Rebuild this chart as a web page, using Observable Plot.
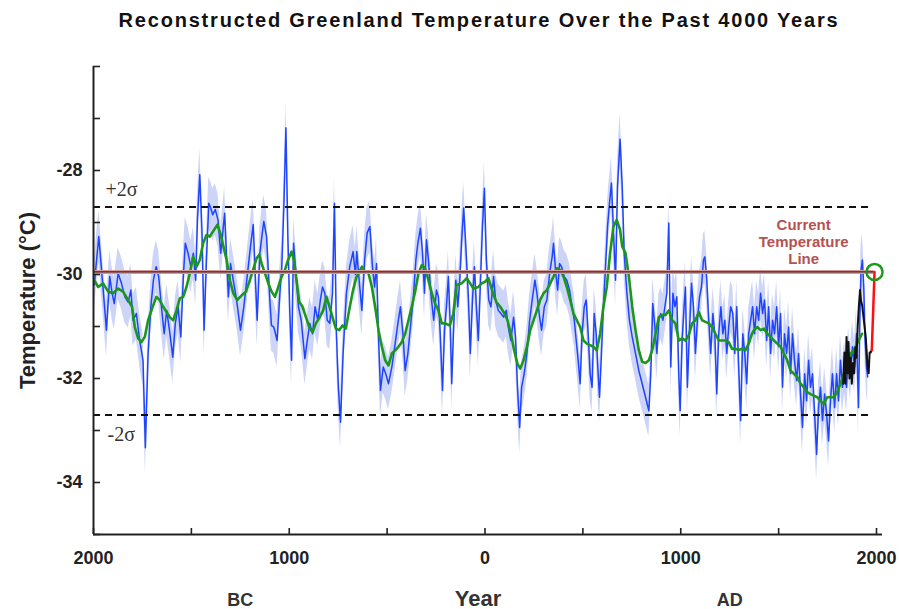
<!DOCTYPE html>
<html>
<head>
<meta charset="utf-8">
<script src="https://cdn.jsdelivr.net/npm/d3@7"></script>
<script src="https://cdn.jsdelivr.net/npm/@observablehq/plot@0.6"></script>
<style>
  body { margin: 0; background: #fff; }
  #chart { width: 899px; height: 609px; }
</style>
</head>
<body>
<div id="chart"></div>
<script>
// ---------- Text ----------
const chartTitle = "Reconstructed Greenland Temperature Over the Past 4000 Years";
const yAxisTitle = "Temperature (°C)";
const xAxisTitle = "Year";
const eraLabels = [{year: -1250, label: "BC"}, {year: 1250, label: "AD"}];

// ---------- Scales / ticks ----------
const xDomain = [-2000, 2000];
const yDomain = [-35, -26];
const xTicks = [-2000, -1500, -1000, -500, 0, 500, 1000, 1500, 2000];
const xLabelTicks = [-2000, -1000, 0, 1000, 2000];
const yTicks = [-26, -27, -28, -29, -30, -31, -32, -33, -34, -35];
const yLabelTicks = [-28, -30, -32, -34];

// ---------- Reference lines ----------
const currentTemp = -29.95;
const currentLineEnd = 1988;
const sigmaLines = [{t: -28.7, label: "+2σ"}, {t: -32.7, label: "-2σ"}];
const sigmaLineEnd = 1960;
const currentNote = {year: 1628, label: "Current\nTemperature\nLine"};
const currentPoint = [{year: 1990, t: -29.95}];
const bandHalfWidth = 0.5;

// ---------- Series (year, °C) ----------
const blueSeries = [
[-1996,-30.2],[-1973,-29.27],[-1956,-30.04],[-1934,-31.07],[-1917,-30.04],[-1905,-30.36],[-1894,-30.56],[-1874,-29.98],[-1857,-30.17],[-1840,-30.43],[-1823,-30.53],[-1809,-30.30],[-1798,-30.88],[-1781,-30.75],[-1764,-31.27],[-1747,-31.65],[-1735,-33.33],[-1721,-31.52],[-1707,-30.62],[-1694,-30.11],[-1680,-29.85],[-1667,-30.04],[-1653,-30.62],[-1639,-31.14],[-1626,-30.69],[-1612,-31.07],[-1595,-31.59],[-1582,-30.94],[-1568,-30.62],[-1554,-31.20],[-1541,-30.04],[-1531,-29.40],[-1517,-29.59],[-1503,-29.85],[-1490,-29.59],[-1478,-30.11],[-1469,-28.95],[-1457,-28.08],[-1446,-29.14],[-1435,-31.07],[-1423,-29.72],[-1411,-28.63],[-1401,-28.72],[-1391,-28.85],[-1378,-28.75],[-1364,-28.95],[-1350,-29.59],
[-1330,-28.82],[-1311,-30.43],[-1300,-29.79],[-1286,-30.11],[-1269,-30.49],[-1249,-31.07],[-1232,-30.62],[-1215,-30.04],[-1198,-29.46],[-1184,-29.04],[-1174,-29.98],[-1164,-30.88],[-1150,-29.59],[-1140,-29.27],[-1130,-28.98],[-1116,-29.27],[-1102,-30.30],[-1091,-30.98],[-1079,-31.01],[-1062,-31.27],[-1048,-30.36],[-1038,-29.85],[-1027,-28.63],[-1017,-27.18],[-1007,-29.27],[-997,-30.75],[-988,-31.65],[-978,-29.40],[-966,-29.98],[-953,-30.62],[-939,-30.88],[-920,-31.62],[-908,-31.27],[-895,-30.94],[-881,-31.14],[-868,-30.62],[-854,-30.88],[-841,-30.49],[-830,-30.24],[-818,-30.36],[-806,-30.88],[-793,-30.94],[-779,-30.36],[-769,-28.63],[-759,-31.14],[-749,-32.17],[-738,-32.84],[-725,-31.52],[-708,-30.36],[-691,-29.85],[-674,-29.56],
[-662,-30.0],[-655,-29.56],[-643,-30.11],[-629,-30.69],[-615,-29.72],[-602,-29.20],[-588,-29.08],[-575,-29.85],[-564,-30.24],[-554,-29.79],[-544,-31.20],[-534,-32.23],[-520,-31.78],[-507,-31.91],[-493,-32.10],[-476,-31.78],[-459,-31.33],[-445,-30.94],[-432,-30.62],[-418,-31.20],[-408,-31.85],[-394,-31.52],[-381,-31.01],[-367,-30.49],[-353,-29.72],[-343,-29.40],[-330,-29.11],[-319,-29.59],[-309,-30.36],[-299,-29.33],[-289,-29.72],[-275,-30.43],[-262,-30.88],[-248,-30.30],[-238,-30.43],[-228,-31.20],[-217,-32.23],[-207,-31.07],[-197,-30.62],[-187,-30.04],[-177,-31.01],[-170,-32.10],[-160,-31.01],[-149,-30.11],[-139,-30.62],[-129,-30.11],[-119,-29.33],[-109,-28.72],[-98,-29.46],[-85,-30.43],[-75,-31.52],[-64,-30.49],[-54,-29.85],[-44,-30.62],[-34,-31.27],[-24,-30.24],[-13,-29.08],[-3,-28.34],[7,-29.72],
[19,-30.49],[30,-30.62],[44,-30.04],[54,-30.49],[68,-30.69],[81,-30.75],[95,-30.82],[109,-30.69],[119,-31.01],[132,-31.27],[146,-30.82],[156,-31.20],[166,-32.17],[177,-32.94],[187,-32.17],[200,-31.91],[214,-31.52],[228,-30.88],[241,-30.49],[255,-30.11],[265,-30.36],[279,-30.82],[289,-31.07],[303,-30.62],[316,-30.49],[330,-29.98],[343,-29.66],[350,-29.40],[360,-29.91],[371,-30.30],[381,-29.79],[391,-29.85],[405,-30.04],[418,-30.11],[432,-30.30],[445,-30.62],[456,-30.88],[466,-31.27],[476,-31.65],[486,-32.10],[496,-31.14],[507,-30.62],[517,-30.49],[527,-31.14],[537,-31.91],[547,-32.17],[558,-30.75],[568,-31.14],[578,-31.91],[585,-32.36],[595,-31.52],[605,-30.62],[615,-29.91],[626,-29.08],[636,-28.63],[646,-28.24],[656,-29.14],[667,-30.11],[677,-28.30],[690,-27.40],
[701,-28.30],[711,-29.59],[725,-30.36],[738,-30.88],[752,-31.20],[769,-31.52],[786,-31.85],[803,-32.10],[820,-32.36],[837,-32.62],[847,-31.91],[857,-30.56],[868,-31.01],[878,-31.52],[888,-30.88],[898,-30.75],[909,-30.88],[919,-30.62],[929,-30.36],[939,-29.01],[949,-31.78],[960,-30.36],[970,-30.62],[980,-30.43],[990,-31.91],[997,-32.62],[1007,-31.27],[1017,-30.62],[1024,-30.24],[1034,-32.17],[1044,-31.14],[1055,-30.17],[1065,-30.62],[1075,-31.52],[1085,-30.88],[1096,-30.43],[1106,-30.24],[1116,-29.72],[1123,-29.66],[1133,-30.11],[1143,-30.88],[1153,-31.52],[1164,-30.75],[1174,-31.14],[1184,-32.30],[1194,-31.14],[1205,-30.62],[1215,-31.14],[1225,-30.88],[1235,-31.52],[1245,-31.01],[1255,-30.62],[1266,-30.75],[1276,-31.52],[1286,-30.62],[1296,-31.78],[1306,-32.81],[1317,-31.14],[1327,-31.52],[1337,-32.10],[1347,-31.14],
[1357,-30.88],[1367,-30.62],[1377,-31.14],[1388,-30.62],[1398,-30.88],[1408,-30.36],[1418,-30.75],[1428,-30.49],[1439,-31.27],[1449,-30.62],[1459,-31.52],[1469,-30.88],[1479,-31.14],[1490,-30.62],[1500,-31.39],[1510,-30.75],[1520,-32.17],[1530,-31.14],[1541,-31.52],[1551,-31.01],[1561,-31.91],[1571,-31.14],[1581,-31.65],[1592,-32.04],[1602,-31.52],[1612,-32.30],[1622,-32.94],[1633,-31.91],[1643,-32.43],[1653,-31.65],[1663,-32.17],[1673,-31.91],[1684,-32.68],[1694,-33.46],[1704,-32.56],[1714,-32.17],[1724,-32.81],[1735,-32.30],[1745,-32.68],[1755,-33.20],[1765,-32.43],[1775,-31.91],[1786,-32.56],[1796,-31.91],[1806,-32.43],[1816,-31.65],[1826,-32.17],[1837,-31.78],[1847,-32.17],[1857,-31.52],[1867,-31.91],[1877,-31.39],[1888,-31.78],[1898,-31.14],[1908,-32.56],[1915,-30.88],[1921,-29.91],[1928,-29.72],[1935,-30.24],[1942,-31.27],[1949,-31.78],[1955,-31.97]
];

const greenSeries = [
[-1996,-30.11],[-1976,-30.24],[-1951,-30.17],[-1925,-30.33],[-1900,-30.36],[-1874,-30.27],[-1849,-30.33],[-1823,-30.49],[-1803,-30.62],[-1789,-31.01],[-1772,-31.23],[-1755,-31.30],[-1738,-31.20],[-1721,-30.88],[-1704,-30.69],[-1679,-30.43],[-1662,-30.49],[-1644,-30.62],[-1627,-30.72],[-1611,-30.82],[-1593,-30.88],[-1576,-30.69],[-1559,-30.46],[-1542,-30.43],[-1525,-30.24],[-1508,-29.98],[-1491,-29.66],[-1474,-29.85],[-1457,-29.72],[-1440,-29.40],[-1423,-29.24],[-1406,-29.27],[-1389,-29.17],[-1367,-29.04],[-1350,-29.24],
[-1337,-29.45],[-1320,-29.72],[-1303,-30.11],[-1286,-30.36],[-1266,-30.49],[-1243,-30.40],[-1221,-30.33],[-1201,-30.11],[-1180,-29.85],[-1167,-29.69],[-1153,-29.62],[-1141,-29.79],[-1124,-29.98],[-1107,-30.17],[-1090,-30.33],[-1073,-30.43],[-1056,-30.24],[-1039,-30.04],[-1022,-29.91],[-1006,-29.72],[-988,-29.56],[-976,-29.72],[-963,-30.11],[-949,-30.53],[-932,-30.62],[-915,-30.82],[-898,-31.01],[-881,-31.11],[-864,-30.94],[-844,-30.82],[-827,-30.69],[-810,-30.43],[-797,-30.59],[-779,-30.82],[-762,-31.04],[-745,-31.07],[-728,-30.98],[-711,-31.04],[-694,-30.69],[-674,-30.30],
[-657,-30.05],[-646,-29.98],[-629,-29.85],[-612,-29.95],[-595,-29.98],[-578,-30.24],[-561,-30.62],[-544,-31.07],[-527,-31.39],[-510,-31.65],[-493,-31.75],[-476,-31.52],[-459,-31.46],[-442,-31.39],[-425,-31.30],[-408,-31.14],[-391,-30.88],[-374,-30.62],[-357,-30.33],[-340,-29.98],[-323,-29.82],[-306,-29.88],[-289,-30.11],[-272,-30.36],[-255,-30.56],[-238,-30.69],[-221,-30.94],[-204,-30.94],[-179,-30.98],[-162,-30.75],[-145,-30.20],[-119,-30.17],[-93,-30.07],[-76,-30.17],[-59,-30.27],[-34,-30.24],[-17,-30.17],[0,-30.14],
[17,-30.07],[41,-30.36],[58,-30.53],[78,-30.62],[99,-30.75],[115,-30.88],[132,-31.14],[149,-31.46],[166,-31.72],[180,-31.81],[197,-31.65],[214,-31.39],[231,-31.07],[248,-30.88],[265,-30.69],[282,-30.49],[299,-30.36],[316,-30.30],[333,-30.17],[350,-30.04],[367,-29.88],[384,-29.91],[401,-30.04],[418,-30.24],[435,-30.49],[452,-30.75],[469,-30.88],[486,-31.01],[503,-31.27],[520,-31.33],[537,-31.36],[554,-31.39],[571,-31.46],[588,-31.14],[605,-30.62],[622,-30.24],[639,-29.59],[656,-29.08],[673,-28.95],
[690,-29.14],[701,-29.46],[718,-29.59],[735,-30.04],[752,-30.62],[769,-31.07],[786,-31.46],[803,-31.68],[820,-31.70],[837,-31.65],[854,-31.46],[871,-31.14],[888,-30.82],[905,-30.78],[922,-30.78],[939,-30.69],[956,-30.88],[973,-30.94],[990,-31.27],[1007,-31.23],[1024,-31.27],[1041,-31.17],[1058,-30.94],[1075,-30.88],[1092,-30.72],[1109,-30.88],[1126,-30.91],[1143,-30.94],[1160,-31.01],[1177,-31.14],[1194,-31.27],[1211,-31.27],[1228,-31.27],[1245,-31.30],[1262,-31.43],[1279,-31.43],[1296,-31.45],[1313,-31.43],[1330,-31.46],[1347,-31.33],
[1364,-31.14],[1374,-31.07],[1391,-31.01],[1408,-31.07],[1425,-31.04],[1442,-31.14],[1459,-31.20],[1476,-31.27],[1493,-31.33],[1510,-31.39],[1527,-31.52],[1544,-31.65],[1561,-31.85],[1578,-31.91],[1595,-31.97],[1612,-32.10],[1629,-32.17],[1646,-32.26],[1663,-32.30],[1680,-32.33],[1697,-32.36],[1714,-32.43],[1731,-32.49],[1748,-32.36],[1765,-32.36],[1782,-32.36],[1799,-32.26],[1816,-32.10],[1833,-31.91],[1850,-31.72],[1867,-31.52],[1884,-31.46],[1901,-31.33],[1918,-31.20],[1926,-31.14]
];

const blackSeries = [
[1830,-32.1],[1836,-31.5],[1841,-32.1],[1847,-31.2],[1852,-31.9],[1857,-31.3],[1862,-32.0],[1868,-31.6],[1874,-32.1],[1880,-31.7],[1886,-31.9],[1892,-31.4],[1898,-31.6],[1904,-31.0],[1910,-30.6],[1916,-30.3],[1921,-30.5],[1927,-30.6],[1933,-30.8],[1939,-31.0],[1945,-31.2],[1950,-31.5],[1955,-31.8],[1960,-31.9],[1965,-31.5],[1970,-31.5],[1976,-31.45]
];

const redSeries = [[1976,-31.45],[1990,-29.95]];

// ---------- Chart ----------
const sans = "'Liberation Sans', Arial, Helvetica, sans-serif";
const serif = "'Liberation Serif', 'Times New Roman', serif";

const chart = Plot.plot({
  width: 899,
  height: 609,
  marginLeft: 93,
  marginRight: 23,
  marginTop: 66,
  marginBottom: 75,
  x: {domain: xDomain, axis: null},
  y: {domain: yDomain, axis: null},
  style: {fontFamily: sans, background: "#fff", color: "#222", overflow: "visible"},
  marks: [
    // uncertainty band
    Plot.areaY(blueSeries, {x: d => d[0], y1: d => d[1] - bandHalfWidth, y2: d => d[1] + bandHalfWidth, fill: "#ccd4f7"}),
    // blue reconstruction
    Plot.line(blueSeries, {x: d => d[0], y: d => d[1], stroke: "#1f44ff", strokeWidth: 1.5}),
    // smoothed
    Plot.line(greenSeries, {x: d => d[0], y: d => d[1], stroke: "#1b971b", strokeWidth: 2.6}),
    // recent record
    Plot.line(blackSeries, {x: d => d[0], y: d => d[1], stroke: "#111", strokeWidth: 2}),
    // sigma lines
    Plot.ruleY(sigmaLines, {y: "t", x1: xDomain[0], x2: sigmaLineEnd, stroke: "#111", strokeWidth: 2, strokeDasharray: "7,5"}),
    Plot.text([sigmaLines[0]], {x: xDomain[0], y: "t", text: "label", textAnchor: "start", dx: 12, dy: -17, fontFamily: serif, fontSize: 20, fill: "#333"}),
    Plot.text([sigmaLines[1]], {x: xDomain[0], y: "t", text: "label", textAnchor: "start", dx: 14, dy: 20, fontFamily: serif, fontSize: 20, fill: "#333"}),
    // current temperature line
    Plot.ruleY([currentTemp], {x1: xDomain[0], x2: currentLineEnd, stroke: "#d49a9a", strokeWidth: 4}),
    Plot.ruleY([currentTemp], {x1: xDomain[0], x2: currentLineEnd, stroke: "#4a1d1d", strokeWidth: 1.4}),
    Plot.line(redSeries, {x: d => d[0], y: d => d[1], stroke: "#ff1010", strokeWidth: 2.5}),
    Plot.dot(currentPoint, {x: "year", y: "t", r: 8, stroke: "#1b9a1b", strokeWidth: 2.5, fill: "none"}),
    Plot.text([currentNote], {x: "year", y: () => currentTemp, text: "label", dy: -30, lineAnchor: "middle", lineHeight: 1.13, fontSize: 15, fontWeight: "bold", fill: "#b5524f"}),
    // axes
    Plot.ruleX([xDomain[0]], {stroke: "#222", strokeWidth: 2}),
    Plot.ruleY([yDomain[0]], {stroke: "#222", strokeWidth: 2, insetRight: -6}),
    Plot.axisY(yTicks, {tickSize: -7, tickFormat: () => "", label: null, strokeWidth: 1.6, stroke: "#222"}),
    Plot.axisY(yLabelTicks, {tickSize: 0, tickPadding: 11, label: null, fontSize: 18, fontWeight: "bold", fill: "#222", tickFormat: d => String(d)}),
    Plot.axisX(xTicks, {anchor: "bottom", tickSize: -6, tickFormat: () => "", label: null, strokeWidth: 1.6, stroke: "#222"}),
    Plot.axisX(xLabelTicks, {anchor: "bottom", tickSize: 0, tickPadding: 17, label: null, fontSize: 18, fontWeight: "bold", fill: "#222", tickFormat: d => String(Math.abs(d))}),
    // titles
    Plot.text([chartTitle], {text: d => d, frameAnchor: "top", textAnchor: "middle", dx: -6, dy: -46, lineAnchor: "middle", fontSize: 20, fontWeight: "bold", fill: "#111"}),
    Plot.text([yAxisTitle], {text: d => d, frameAnchor: "left", textAnchor: "middle", lineAnchor: "middle", dx: -66, rotate: -90, fontSize: 22, fontWeight: "bold", fill: "#222"}),
    Plot.text([xAxisTitle], {text: d => d, frameAnchor: "bottom", textAnchor: "middle", lineAnchor: "middle", dx: -7, dy: 64, fontSize: 22, fontWeight: "bold", fill: "#333"}),
    Plot.text(eraLabels, {x: "year", text: "label", frameAnchor: "bottom", textAnchor: "middle", lineAnchor: "middle", dy: 66, fontSize: 18, fontWeight: "bold", fill: "#333"})
  ]
});

d3.select(chart).selectAll("text")
  .filter(function() { return this.textContent === chartTitle; })
  .style("letter-spacing", "1.8px");

document.getElementById("chart").appendChild(chart);
</script>
</body>
</html>
